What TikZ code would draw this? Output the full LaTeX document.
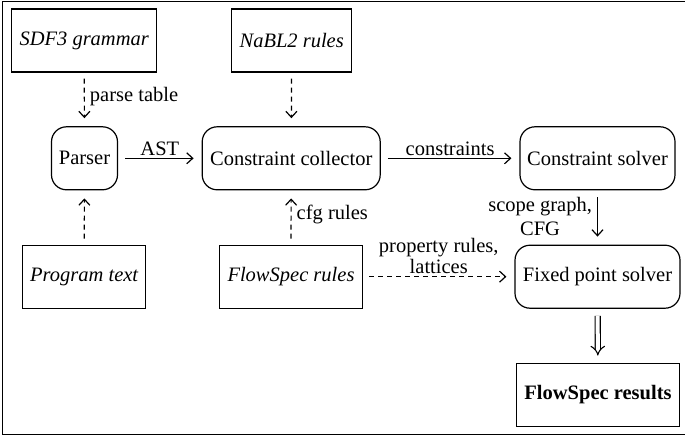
\documentclass[tikz,border=0pt]{standalone}
\usepackage{fontspec}
\setmainfont{Liberation Serif}
\usetikzlibrary{arrows.meta}
\begin{document}
\begin{tikzpicture}[x=1pt,y=-1pt,
  font=\fontsize{20.5}{23}\selectfont,
  line width=1.2pt,
  >={Straight Barb[length=6pt,width=11pt,line width=1.2pt]},
  srcbox/.style={draw,rectangle,inner sep=0pt,minimum height=63pt,font=\fontsize{20.5}{23}\selectfont\itshape},
  procbox/.style={draw,rectangle,rounded corners=15pt,inner sep=0pt,minimum height=63pt},
  flow/.style={->,shorten <=7pt,shorten >=8pt},
  dflow/.style={->,dash pattern=on 5pt off 4pt,shorten <=6pt,shorten >=8pt},
  lbl/.style={inner sep=2pt,align=center}]
\useasboundingbox (0,0) rectangle (685,436);
\draw[line width=0.9pt] (2,1.5) rectangle (687,434.5);

\node[srcbox,minimum width=145pt] (sdf) at (84.2,40.5) {SDF3 grammar};
\node[srcbox,minimum width=120pt] (nabl) at (291.7,40.5) {NaBL2 rules};
\node[procbox,minimum width=66pt] (parser) at (84.5,158.3) {Parser};
\node[procbox,minimum width=178pt] (coll) at (291.2,158.3) {Constraint collector};
\node[procbox,minimum width=155pt] (solver) at (597.5,158.3) {Constraint solver};
\node[srcbox,minimum width=123pt] (prog) at (84.2,276.7) {Program text};
\node[srcbox,minimum width=143pt] (fsr) at (291,276.7) {FlowSpec rules};
\node[procbox,minimum width=165pt] (fps) at (597.5,276.7) {Fixed point solver};
\node[draw,rectangle,inner sep=0pt,minimum height=63pt,minimum width=163pt,font=\fontsize{20.5}{23}\selectfont\bfseries] (res) at (598,394.7) {FlowSpec results};

\draw[dflow] (sdf) -- node[lbl,right,inner sep=5pt,pos=0.45] {parse table} (parser);
\draw[dflow] (nabl) -- (coll);
\draw[dflow] (prog) -- (parser);
\draw[dflow] (fsr) -- node[lbl,right,inner sep=5pt,pos=0.55] {cfg rules} (coll);
\draw[flow] (parser) -- node[lbl,above] {AST} (coll);
\draw[flow] (coll) -- node[lbl,above] {constraints} (solver);
\draw[flow] (solver) -- node[lbl,left,inner sep=5pt,yshift=1pt,font=\fontsize{20.5}{23.5}\selectfont] {scope graph,\\CFG} (fps);
\draw[dflow] (fsr) -- node[lbl,above,font=\fontsize{20.5}{21.5}\selectfont] {property rules,\\lattices} (fps);
\draw[double,double distance=4pt,line width=1.1pt,-{Implies},shorten <=7pt,shorten >=7pt] (fps) -- (res);
\end{tikzpicture}
\end{document}
